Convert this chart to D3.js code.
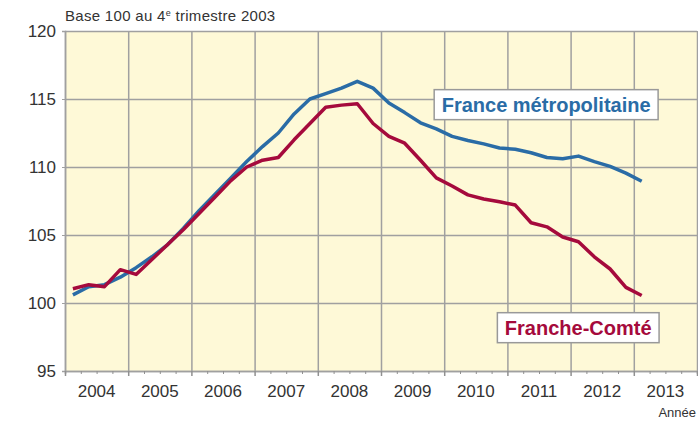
<!DOCTYPE html>
<html>
<head>
<meta charset="utf-8">
<script src="https://cdn.jsdelivr.net/npm/d3@7"></script>
<style>
  body { margin: 0; background: #fff; }
  svg { display: block; font-family: "Liberation Sans", Arial, sans-serif; }
</style>
</head>
<body>
<div id="chart"></div>
<script>
// year tick labels (one label per year, centred in the year)
const years = [2004, 2005, 2006, 2007, 2008, 2009, 2010, 2011, 2012, 2013];
// quarterly points, 2004 T1 -> 2013 T1
const quarterLabels = [
  "2004T1","2004T2","2004T3","2004T4","2005T1","2005T2","2005T3","2005T4",
  "2006T1","2006T2","2006T3","2006T4","2007T1","2007T2","2007T3","2007T4",
  "2008T1","2008T2","2008T3","2008T4","2009T1","2009T2","2009T3","2009T4",
  "2010T1","2010T2","2010T3","2010T4","2011T1","2011T2","2011T3","2011T4",
  "2012T1","2012T2","2012T3","2012T4","2013T1"
];
const franceMetro = [
  100.6, 101.2, 101.35, 101.9, 102.6, 103.4, 104.3, 105.5,
  106.8, 108.0, 109.2, 110.4, 111.5, 112.5, 113.9, 115.0,
  115.4, 115.8, 116.3, 115.8, 114.7, 114.0, 113.25, 112.8,
  112.25, 111.95, 111.7, 111.4, 111.3, 111.05, 110.7, 110.6,
  110.8, 110.4, 110.05, 109.55, 108.95
];
const francheComte = [
  101.05, 101.35, 101.2, 102.45, 102.1, 103.2, 104.3, 105.4,
  106.6, 107.8, 109.0, 110.0, 110.5, 110.7, 112.0, 113.2,
  114.4, 114.55, 114.65, 113.2, 112.25, 111.75, 110.5, 109.2,
  108.6, 107.95, 107.65, 107.45, 107.2, 105.9, 105.6, 104.85,
  104.5, 103.4, 102.5, 101.15, 100.55
];
const yTicks = [95, 100, 105, 110, 115, 120];

const width = 698, height = 423;
const margin = {top: 31, right: 1, bottom: 52, left: 65};

const svg = d3.select("#chart").append("svg")
  .attr("width", width)
  .attr("height", height);

// quarter label -> decimal year at the middle of the quarter
const qTime = q => +q.slice(0, 4) + (+q.slice(5) - 0.5) / 4;

const x = d3.scaleLinear()
  .domain([2004, 2014])
  .range([margin.left, width - margin.right]);

const y = d3.scaleLinear()
  .domain([95, 120])
  .range([height - margin.bottom, margin.top]);

// plot background
svg.append("rect")
  .attr("x", x(2004))
  .attr("y", y(120))
  .attr("width", x(2014) - x(2004))
  .attr("height", y(95) - y(120))
  .attr("fill", "#fef9d7");

// vertical grid at year boundaries
svg.append("g")
  .attr("transform", `translate(0,${y(95)})`)
  .call(d3.axisBottom(x)
    .tickValues(d3.range(2004, 2015))
    .tickSize(-(y(95) - y(120)))
    .tickFormat(""))
  .call(g => g.select(".domain").remove())
  .selectAll("line")
  .attr("stroke", "#a0a0a0")
  .attr("stroke-width", 1.5);

// horizontal grid
svg.append("g")
  .attr("transform", `translate(${x(2004)},0)`)
  .call(d3.axisLeft(y)
    .tickValues(yTicks)
    .tickSize(-(x(2014) - x(2004)))
    .tickFormat(""))
  .call(g => g.select(".domain").remove())
  .selectAll("line")
  .attr("stroke", "#a0a0a0")
  .attr("stroke-width", 1.5);

// y tick labels
svg.append("g")
  .attr("transform", `translate(${x(2004)},0)`)
  .call(d3.axisLeft(y).tickValues(yTicks).tickSize(3).tickPadding(6))
  .call(g => g.select(".domain").attr("stroke", "#a0a0a0").attr("stroke-width", 1.5))
  .call(g => g.selectAll("line").attr("stroke", "#a0a0a0"))
  .selectAll("text")
  .attr("font-size", 17)
  .attr("fill", "#333")
  .attr("font-family", "Liberation Sans, Arial, sans-serif");

// bottom axis: quarter ticks + year boundaries
const bottom = svg.append("g").attr("transform", `translate(0,${y(95)})`);
bottom.call(d3.axisBottom(x)
    .tickValues(d3.range(2004, 2014.01, 0.25))
    .tickSize(3)
    .tickFormat(""))
  .call(g => g.select(".domain").attr("stroke", "#a0a0a0").attr("stroke-width", 1.5))
  .selectAll("line")
  .attr("stroke", "#909090")
  .attr("stroke-width", d => Number.isInteger(d) ? 1.5 : 1)
  .attr("y2", d => Number.isInteger(d) ? 5 : 3);

// year labels centred in each year
svg.append("g").selectAll("text")
  .data(years)
  .join("text")
  .attr("x", d => x(d + 0.5))
  .attr("y", y(95) + 26)
  .attr("text-anchor", "middle")
  .attr("font-size", 17)
  .attr("fill", "#333")
  .text(d => d);

svg.append("text")
  .attr("x", width - 2)
  .attr("y", height - 6)
  .attr("text-anchor", "end")
  .attr("font-size", 13)
  .attr("fill", "#333")
  .text("Année");

// title
const title = svg.append("text")
  .attr("x", x(2004))
  .attr("y", 21)
  .attr("font-size", 15)
  .attr("letter-spacing", 0.3)
  .attr("fill", "#333");
title.append("tspan").text("Base 100 au 4");
title.append("tspan").attr("baseline-shift", "super").attr("font-size", 9).text("e");
title.append("tspan").text(" trimestre 2003");

// lines
const line = d3.line()
  .x((d, i) => x(qTime(quarterLabels[i])))
  .y(d => y(d));

const series = [
  {name: "France métropolitaine", values: franceMetro, color: "#2a6ca6"},
  {name: "Franche-Comté", values: francheComte, color: "#a50a3c"}
];

series.forEach(s => {
  svg.append("path")
    .datum(s.values)
    .attr("fill", "none")
    .attr("stroke", s.color)
    .attr("stroke-width", 3.5)
    .attr("stroke-linejoin", "round")
    .attr("d", line);
});

// labels in boxes
const labels = [
  {text: "France métropolitaine", color: "#2a6ca6", x: 2009.96, y: 114.07},
  {text: "Franche-Comté", color: "#a50a3c", x: 2010.96, y: 97.67}
];

labels.forEach(l => {
  const g = svg.append("g");
  const t = g.append("text")
    .attr("x", x(l.x))
    .attr("y", y(l.y))
    .attr("font-size", 20)
    .attr("font-weight", "bold")
    .attr("fill", l.color)
    .text(l.text);
  const bb = t.node().getBBox();
  g.insert("rect", "text")
    .attr("x", bb.x - 7.5)
    .attr("y", y(l.y) - 22)
    .attr("width", bb.width + 15)
    .attr("height", 30)
    .attr("fill", "#fff")
    .attr("stroke", "#999")
    .attr("stroke-width", 1.5);
});
</script>
</body>
</html>
